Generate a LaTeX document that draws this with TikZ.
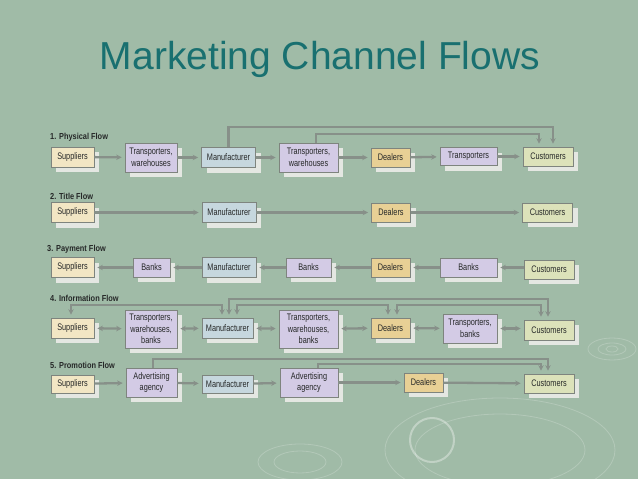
\documentclass[tikz,border=0pt]{standalone}
\usepackage{fontspec}
\setmainfont{Liberation Sans}
\newfontfamily\boxfont{Liberation Sans}[FakeStretch=0.77]
\newfontfamily\labfont{Liberation Sans}[FakeStretch=0.85]
\usetikzlibrary{arrows.meta,shadows}
\definecolor{bgcol}{HTML}{A0BBA7}
\definecolor{titleteal}{HTML}{197070}
\definecolor{boxline}{HTML}{7E847E}
\definecolor{boxtext}{HTML}{262828}
\definecolor{shadowgray}{HTML}{E4E7E2}
\definecolor{linegray}{HTML}{879089}
\definecolor{supfill}{HTML}{F2E6C4}
\definecolor{trfill}{HTML}{D3CBE5}
\definecolor{manfill}{HTML}{C6D7DE}
\definecolor{deafill}{HTML}{E8D095}
\definecolor{cusfill}{HTML}{DCE2BA}
\tikzset{
  box/.style={draw=boxline, line width=0.7pt, inner sep=1pt, align=center,
    font=\boxfont\fontsize{9.5}{11.5}\selectfont, text=boxtext,
    copy shadow={shadow xshift=5pt, shadow yshift=-5pt, fill=shadowgray, draw=none}},
  supbox/.style={box, fill=supfill, minimum width=43pt, minimum height=20pt},
  trbox/.style={box, fill=trfill},
  manbox/.style={box, fill=manfill, minimum width=54pt, minimum height=20pt},
  deabox/.style={box, fill=deafill, minimum width=39pt, minimum height=19pt},
  cusbox/.style={box, fill=cusfill, minimum width=50pt, minimum height=19pt},
  flowlab/.style={anchor=west, inner sep=0pt, font=\labfont\bfseries\fontsize{8.7}{10}\selectfont, text=boxtext},
  flow/.style={draw=linegray, line width=2.3pt, -{Stealth[length=5.5pt,width=5.5pt]}, shorten >=3pt},
  flow2/.style={flow, {Stealth[length=5.5pt,width=5.5pt]}-{Stealth[length=5.5pt,width=5.5pt]}, shorten <=3pt},
  ripple/.style={draw=white, opacity=0.2, line width=0.8pt}
}
\begin{document}
\begin{tikzpicture}[x=1pt,y=-1pt]
\fill[bgcol] (0,0) rectangle (638,479);
\useasboundingbox (0,0) rectangle (638,479);
% ripples
\draw[ripple] (612,349) ellipse[x radius=24, y radius=11];
\draw[ripple] (612,349) ellipse[x radius=14, y radius=6];
\draw[ripple] (612,349) ellipse[x radius=6, y radius=3];
\draw[ripple] (500,450) ellipse[x radius=115, y radius=52];
\draw[ripple] (500,450) ellipse[x radius=85, y radius=36];
\draw[ripple] (300,462) ellipse[x radius=42, y radius=18];
\draw[ripple] (300,462) ellipse[x radius=26, y radius=11];
\draw[ripple, line width=2pt, opacity=0.35] (432,440) circle[radius=22];
% title
\node[anchor=base, text=titleteal, font=\fontsize{39}{40}\selectfont] (title) at (320,69) {Marketing Channel Flows};
% 1. physical flow
\node[flowlab] (lab1) at (50,137) {1. Physical Flow};
\node[supbox] (p1sup) at (72.5,157) {Suppliers};
\node[trbox, minimum width=52pt, minimum height=29pt] (p1trw) at (151,157.5) {Transporters,\\warehouses};
\node[manbox] (p1man) at (228.5,157.5) {Manufacturer};
\node[trbox, minimum width=59pt, minimum height=29pt] (p1trw2) at (308.5,157.5) {Transporters,\\warehouses};
\node[deabox] (p1dea) at (390.5,157.5) {Dealers};
\node[trbox, minimum width=57pt, minimum height=18pt] (p1tra) at (468.5,156.5) {Transporters};
\node[cusbox] (p1cus) at (548,156.5) {Customers};
\draw[flow] (p1sup) -- (p1trw);
\draw[flow] (p1trw) -- (p1man);
\draw[flow] (p1man) -- (p1trw2);
\draw[flow] (p1trw2) -- (p1dea);
\draw[flow] (p1dea) -- (p1tra);
\draw[flow] (p1tra) -- (p1cus);
\draw[flow] (p1man.north) -- ++(0,-20) -| ([xshift=5pt]p1cus.north);
\draw[flow] ([xshift=7.5pt]p1trw2.north) -- ++(0,-9) -| ([xshift=-9pt]p1cus.north);
% 2. title flow
\node[flowlab] (lab2) at (50,196) {2. Title Flow};
\node[supbox] (p2sup) at (72.5,212.5) {Suppliers};
\node[manbox] (p2man) at (229,212.5) {Manufacturer};
\node[deabox] (p2dea) at (391,212.5) {Dealers};
\node[cusbox] (p2cus) at (547.5,212.5) {Customers};
\draw[flow] (p2sup) -- (p2man);
\draw[flow] (p2man) -- (p2dea);
\draw[flow] (p2dea) -- (p2cus);
% 3. payment flow
\node[flowlab] (lab3) at (47,249) {3. Payment Flow};
\node[supbox] (p3sup) at (72.5,267.5) {Suppliers};
\node[trbox, minimum width=37pt, minimum height=19pt] (p3bk1) at (151.5,267.5) {Banks};
\node[manbox] (p3man) at (229,267.5) {Manufacturer};
\node[trbox, minimum width=45pt, minimum height=19pt] (p3bk2) at (308.5,267.5) {Banks};
\node[deabox] (p3dea) at (390.5,267.5) {Dealers};
\node[trbox, minimum width=57pt, minimum height=19pt] (p3bk3) at (468.5,267.5) {Banks};
\node[cusbox] (p3cus) at (549,269.5) {Customers};
\draw[flow] (p3cus.west |- p3bk3) -- (p3bk3);
\draw[flow] (p3bk3) -- (p3dea);
\draw[flow] (p3dea) -- (p3bk2);
\draw[flow] (p3bk2) -- (p3man);
\draw[flow] (p3man) -- (p3bk1);
\draw[flow] (p3bk1) -- (p3sup);
% 4. information flow
\node[flowlab] (lab4) at (50,298) {4. Information Flow};
\node[supbox] (p4sup) at (72.5,328) {Suppliers};
\node[trbox, minimum width=52pt, minimum height=38pt] (p4trw) at (151,329) {Transporters,\\warehouses,\\banks};
\node[manbox, minimum width=51pt] (p4man) at (227.5,328) {Manufacturer};
\node[trbox, minimum width=59pt, minimum height=38pt] (p4trw2) at (308.5,329) {Transporters,\\warehouses,\\banks};
\node[deabox, minimum height=20pt] (p4dea) at (390.5,328) {Dealers};
\node[trbox, minimum width=54pt, minimum height=29pt] (p4trb) at (470,328.5) {Transporters,\\banks};
\node[cusbox, minimum height=20pt] (p4cus) at (549,330) {Customers};
\draw[flow2] (p4sup) -- (p4trw);
\draw[flow2] (p4trw) -- (p4man);
\draw[flow2] (p4man) -- (p4trw2);
\draw[flow2] (p4trw2) -- (p4dea);
\draw[flow2] (p4dea) -- (p4trb);
\draw[flow2] (p4trb) -- (p4cus.west |- p4trb);
\draw[flow2] ([xshift=-1.5pt]p4sup.north) -- ++(0,-13) -| ([xshift=-5.5pt]p4man.north);
\draw[flow2] ([xshift=1.5pt]p4man.north) -- ++(0,-19) -| ([xshift=-1pt]p4cus.north);
\draw[flow2] ([xshift=9.5pt]p4man.north) -- ++(0,-13) -| ([xshift=-2.5pt]p4dea.north);
\draw[flow2] ([xshift=6.5pt]p4dea.north) -- ++(0,-13) -| ([xshift=-8pt]p4cus.north);
% 5. promotion flow
\node[flowlab] (lab5) at (50,365) {5. Promotion Flow};
\node[supbox, minimum height=18pt] (p5sup) at (72.5,384) {Suppliers};
\node[trbox, minimum width=51pt, minimum height=29pt] (p5ad1) at (151.5,382.5) {Advertising\\agency};
\node[manbox, minimum width=51pt, minimum height=18pt] (p5man) at (227.5,384) {Manufacturer};
\node[trbox, minimum width=58pt, minimum height=29pt] (p5ad2) at (309,382.5) {Advertising\\agency};
\node[deabox] (p5dea) at (423.5,382.5) {Dealers};
\node[cusbox] (p5cus) at (549,383.5) {Customers};
\draw[flow] (p5sup) -- (p5ad1);
\draw[flow] (p5ad1) -- (p5man);
\draw[flow] (p5man) -- (p5ad2);
\draw[flow] (p5ad2) -- (p5dea);
\draw[flow] (p5dea) -- (p5cus);
\draw[flow] ([xshift=1.5pt]p5ad1.north) -- ++(0,-9) -| ([xshift=-1pt]p5cus.north);
\draw[flow] ([xshift=9pt]p5ad2.north) -- ++(0,-4) -| ([xshift=-8pt]p5cus.north);
\end{tikzpicture}
\end{document}
